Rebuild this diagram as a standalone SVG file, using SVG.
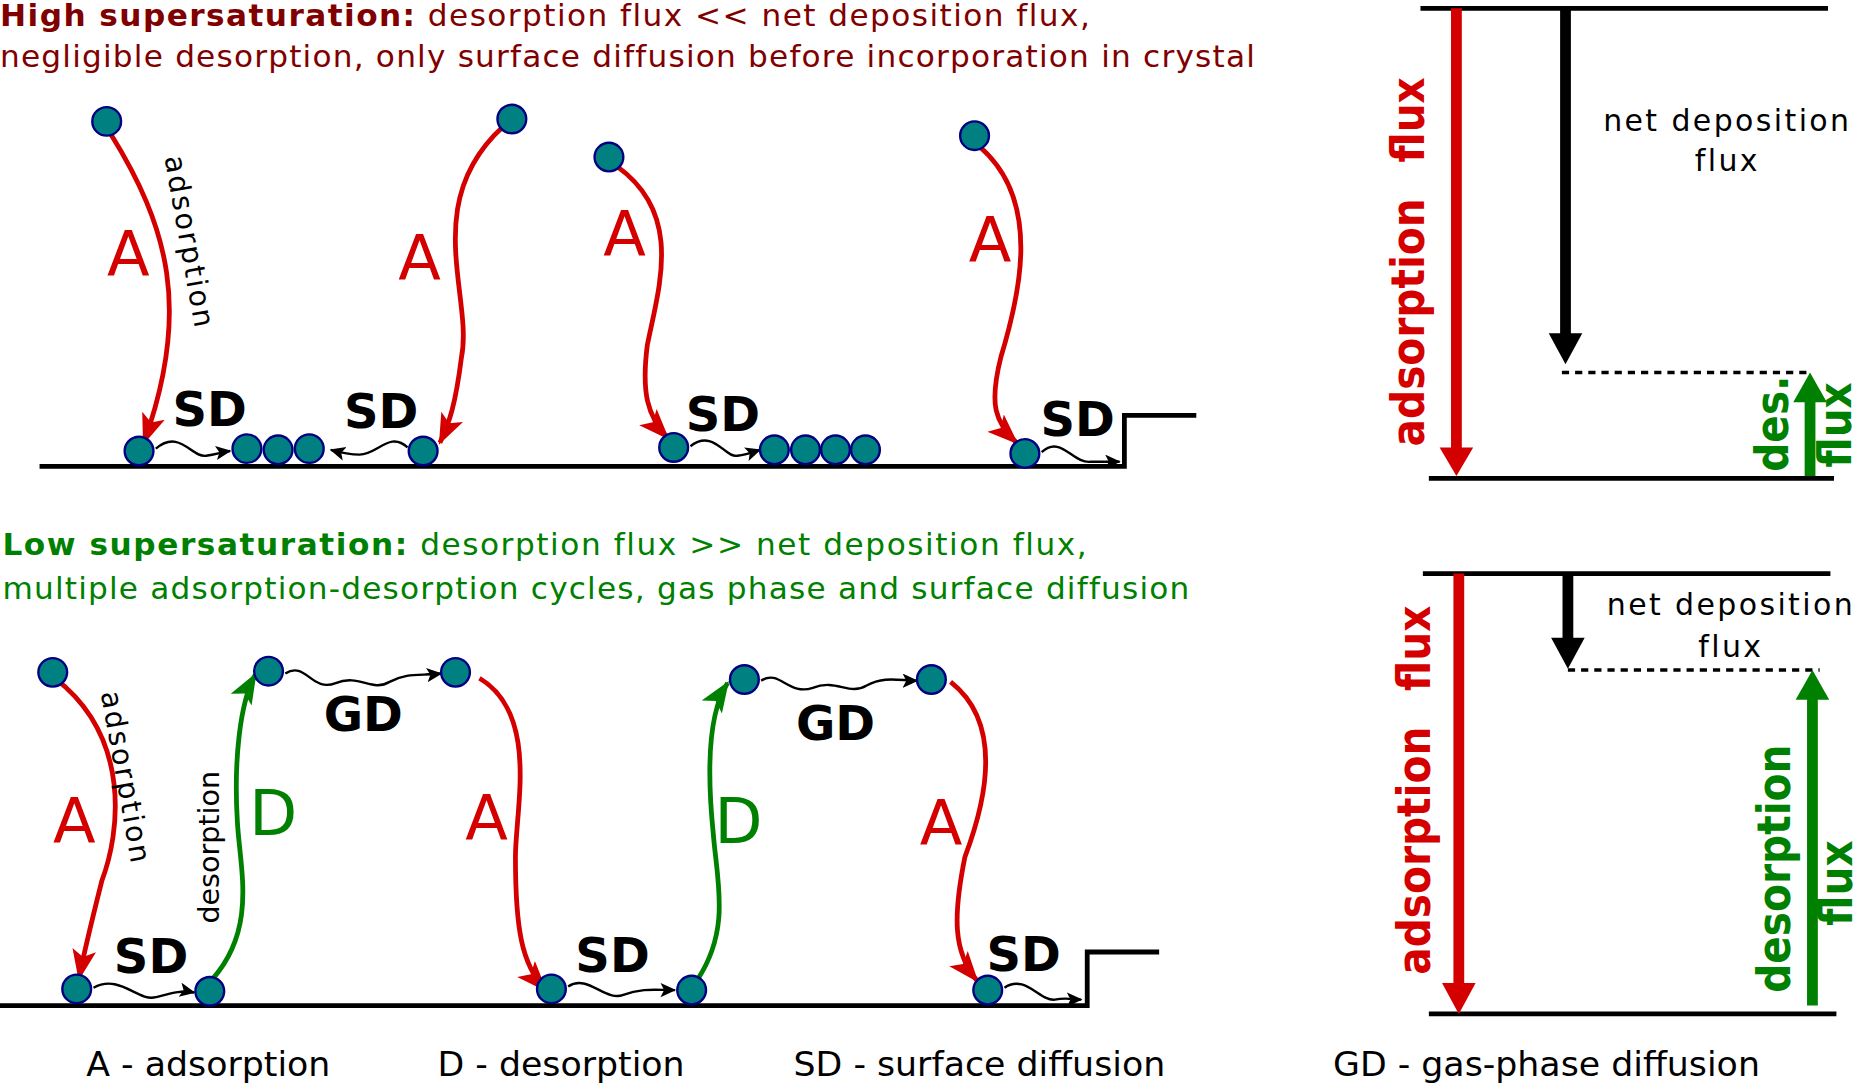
<svg xmlns="http://www.w3.org/2000/svg" width="1864" height="1088" viewBox="0 0 1864 1088">
<style>
.p{fill:#008080;stroke:#000080;stroke-width:2}
.r{fill:none;stroke:#d40000;stroke-width:4}
.g{fill:none;stroke:#008000;stroke-width:4}
.w{fill:none;stroke:#000;stroke-width:2}
.gl{fill:none;stroke:#000;stroke-width:4}
.t{font-family:"DejaVu Sans",sans-serif}
.big{font-family:"DejaVu Sans",sans-serif;font-size:52px;text-anchor:middle}
.sd{font-family:"DejaVu Sans",sans-serif;font-size:40px;font-weight:bold;text-anchor:middle}
.cond{font-family:"DejaVu Sans Condensed","DejaVu Sans",sans-serif;font-weight:bold;font-size:38px;text-anchor:middle}
.nd{font-family:"DejaVu Sans",sans-serif;font-size:25px;text-anchor:middle;letter-spacing:2px}
</style>
<defs>
<marker id="mr" markerUnits="userSpaceOnUse" markerWidth="30" markerHeight="30" refX="24" refY="10" orient="auto"><path d="M0,0 L26,10 L0,20 L6,10 Z" fill="#d40000"/></marker>
<marker id="mg" markerUnits="userSpaceOnUse" markerWidth="30" markerHeight="30" refX="24" refY="10" orient="auto"><path d="M0,0 L26,10 L0,20 L6,10 Z" fill="#008000"/></marker>
<marker id="mw" markerUnits="userSpaceOnUse" markerWidth="16" markerHeight="16" refX="12" refY="6" orient="auto"><path d="M0,0 L13,6 L0,12 L3,6 Z" fill="#000"/></marker>
</defs>
<g transform="scale(1.1987,1.19)">
<g id="titles" class="t">
<text x="0" y="22" font-size="26" letter-spacing="1.2" fill="#800000"><tspan font-weight="bold">High supersaturation:</tspan> desorption flux &lt;&lt; net deposition flux,</text>
<text x="0" y="56" font-size="26" letter-spacing="1.0" fill="#800000">negligible desorption, only surface diffusion before incorporation in crystal</text>
<text x="2" y="466" font-size="26" letter-spacing="1.3" fill="#008000"><tspan font-weight="bold">Low supersaturation:</tspan> desorption flux &gt;&gt; net deposition flux,</text>
<text x="2" y="503" font-size="26" letter-spacing="1.0" fill="#008000">multiple adsorption-desorption cycles, gas phase and surface diffusion</text>
<text x="72" y="904" font-size="29">A - adsorption</text>
<text x="365" y="904" font-size="29">D - desorption</text>
<text x="662" y="904" font-size="29">SD - surface diffusion</text>
<text x="1112" y="904" font-size="29">GD - gas-phase diffusion</text>
</g>
<g id="ground">
<path class="gl" d="M33,392 L938,392 L938,349 L998,349"/>
<path class="gl" d="M0,845 L907,845 L907,800 L967,800"/>
</g>
<g id="connectors">
<path class="r" marker-end="url(#mr)" d="M92,112 C140,190 160,260 120,372"/>
<path class="r" marker-end="url(#mr)" d="M420,106 C350,170 395,250 385,300 C380,340 375,355 367,372"/>
<path class="r" marker-end="url(#mr)" d="M515,140 C570,180 550,240 540,290 C535,330 540,350 557,368"/>
<path class="r" marker-end="url(#mr)" d="M818,124 C870,170 850,250 835,300 C825,340 830,355 848,372"/>
<path class="r" marker-end="url(#mr)" d="M46,570 C110,620 100,700 85,740 C75,780 70,800 66,822"/>
<path class="g" marker-end="url(#mg)" d="M177,823 C215,780 200,730 198,690 C195,640 200,590 213,567"/>
<path class="r" marker-end="url(#mr)" d="M400,570 C450,600 430,680 430,720 C430,780 435,810 455,832"/>
<path class="g" marker-end="url(#mg)" d="M582,823 C610,780 598,740 595,700 C590,650 590,600 607,574"/>
<path class="r" marker-end="url(#mr)" d="M793,573 C840,610 820,680 805,720 C795,770 795,800 815,824"/>
<path class="w" marker-end="url(#mw)" d="M130,377 C150,360 160,385 172,383 C180,382 185,380 192,379"/>
<path class="w" marker-end="url(#mw)" d="M340,376 C325,362 315,382 300,382 C290,382 283,380 276,378"/>
<path class="w" marker-end="url(#mw)" d="M576,375 C595,360 605,385 615,383 C623,382 628,380 634,378"/>
<path class="w" marker-end="url(#mw)" d="M869,380 C885,365 895,390 910,388 C920,388 926,388 934,388"/>
<path class="w" marker-end="url(#mw)" d="M78,830 C100,818 115,842 130,838 C145,834 152,832 162,834"/>
<path class="w" marker-end="url(#mw)" d="M238,566 C255,555 260,582 280,574 C300,566 310,582 325,573 C340,565 350,568 368,566"/>
<path class="w" marker-end="url(#mw)" d="M474,829 C490,818 505,842 520,836 C535,830 548,832 563,832"/>
<path class="w" marker-end="url(#mw)" d="M635,572 C650,562 658,585 678,578 C698,570 708,585 723,576 C738,568 750,572 765,572"/>
<path class="w" marker-end="url(#mw)" d="M838,830 C855,818 868,842 880,840 C890,838 895,840 902,840"/>
</g>
<g id="particles">
<circle class="p" cx="89" cy="102" r="12"/><circle class="p" cx="427" cy="100" r="12"/>
<circle class="p" cx="508" cy="132" r="12"/><circle class="p" cx="813" cy="114" r="12"/>
<circle class="p" cx="116" cy="379" r="12"/><circle class="p" cx="353" cy="379" r="12"/>
<circle class="p" cx="562" cy="376" r="12"/><circle class="p" cx="855" cy="381" r="12"/>
<circle class="p" cx="206" cy="377" r="12"/><circle class="p" cx="232" cy="378" r="12"/><circle class="p" cx="258" cy="377" r="12"/>
<circle class="p" cx="646" cy="378" r="12"/><circle class="p" cx="672" cy="378" r="12"/><circle class="p" cx="697" cy="378" r="12"/><circle class="p" cx="722" cy="378" r="12"/>
<circle class="p" cx="44" cy="565" r="12"/><circle class="p" cx="224" cy="564" r="12"/><circle class="p" cx="380" cy="565" r="12"/>
<circle class="p" cx="621" cy="571" r="12"/><circle class="p" cx="777" cy="571" r="12"/>
<circle class="p" cx="64" cy="831" r="12"/><circle class="p" cx="175" cy="833" r="12"/><circle class="p" cx="460" cy="831" r="12"/>
<circle class="p" cx="577" cy="832" r="12"/><circle class="p" cx="824" cy="832" r="12"/>
</g>
<g id="labels">
<text class="big" x="107" y="232" fill="#d40000">A</text>
<text class="big" x="350" y="235" fill="#d40000">A</text>
<text class="big" x="521" y="215" fill="#d40000">A</text>
<text class="big" x="826" y="220" fill="#d40000">A</text>
<text class="big" x="62" y="708" fill="#d40000">A</text>
<text class="big" x="406" y="706" fill="#d40000">A</text>
<text class="big" x="785" y="710" fill="#d40000">A</text>
<text class="big" x="228" y="702" fill="#008000">D</text>
<text class="big" x="616" y="708" fill="#008000">D</text>
<text class="sd" x="175" y="358">SD</text><text class="sd" x="318" y="360">SD</text>
<text class="sd" x="603" y="362">SD</text><text class="sd" x="899" y="366">SD</text>
<text class="sd" x="126" y="818">SD</text><text class="sd" x="511" y="817">SD</text><text class="sd" x="854" y="816">SD</text>
<text class="sd" x="303" y="614">GD</text><text class="sd" x="697" y="622">GD</text>
<text class="t" font-size="24" letter-spacing="2" text-anchor="middle" transform="translate(150,205) rotate(80)">adsorption</text>
<text class="t" font-size="24" letter-spacing="2" text-anchor="middle" transform="translate(97,655) rotate(80)">adsorption</text>
<text class="t" font-size="24" text-anchor="middle" transform="translate(183,712) rotate(-90)">desorption</text>
</g>
<g id="flux-top">
<path class="gl" d="M1185,7 L1525,7 M1192,402 L1530,402"/>
<line x1="1215" y1="7" x2="1215" y2="380" stroke="#d40000" stroke-width="9"/>
<path d="M1201,376 L1229,376 L1215,400 Z" fill="#d40000"/>
<line x1="1306" y1="7" x2="1306" y2="285" stroke="#000" stroke-width="9"/>
<path d="M1292,280 L1320,280 L1306,306 Z" fill="#000"/>
<line x1="1303" y1="313" x2="1508" y2="313" stroke="#000" stroke-width="3" stroke-dasharray="6,5"/>
<line x1="1510" y1="400" x2="1510" y2="335" stroke="#008000" stroke-width="9"/>
<path d="M1496,338 L1524,338 L1510,313 Z" fill="#008000"/>
<text class="nd" x="1441" y="110">net  deposition</text>
<text class="nd" x="1441" y="144">flux</text>
<text class="cond" fill="#d40000" transform="translate(1188,220) rotate(-90)">adsorption<tspan dx="30">flux</tspan></text>
<text class="cond" fill="#008000" transform="translate(1492,356) rotate(-90)">des.</text>
<text class="cond" fill="#008000" transform="translate(1544,357) rotate(-90)">flux</text>
</g>
<g id="flux-bottom">
<path class="gl" d="M1187,482 L1527,482 M1192,852 L1532,852"/>
<line x1="1217" y1="482" x2="1217" y2="830" stroke="#d40000" stroke-width="9"/>
<path d="M1203,826 L1231,826 L1217,852 Z" fill="#d40000"/>
<line x1="1308" y1="482" x2="1308" y2="540" stroke="#000" stroke-width="9"/>
<path d="M1294,536 L1322,536 L1308,562 Z" fill="#000"/>
<line x1="1308" y1="563" x2="1518" y2="563" stroke="#000" stroke-width="3" stroke-dasharray="6,5"/>
<line x1="1512" y1="845" x2="1512" y2="585" stroke="#008000" stroke-width="9"/>
<path d="M1498,588 L1526,588 L1512,563 Z" fill="#008000"/>
<text class="nd" x="1444" y="517">net  deposition</text>
<text class="nd" x="1444" y="552">flux</text>
<text class="cond" fill="#d40000" transform="translate(1193,664) rotate(-90)">adsorption<tspan dx="30">flux</tspan></text>
<text class="cond" fill="#008000" transform="translate(1493,730) rotate(-90)">desorption</text>
<text class="cond" fill="#008000" transform="translate(1545,742) rotate(-90)">flux</text>
</g>
</g>
</svg>
